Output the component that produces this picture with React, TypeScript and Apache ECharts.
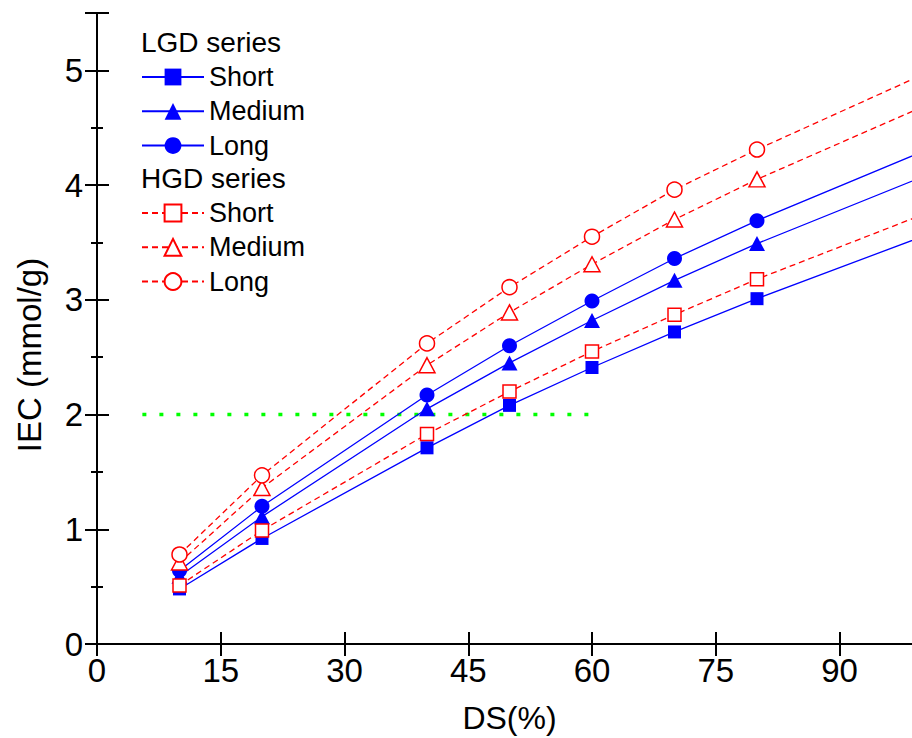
import React, { useEffect, useRef } from "react";
import * as echarts from "echarts";

const dsValues = [10, 20, 40, 50, 60, 70, 80];
const tailX = 100;

const lgdShort = [0.48, 0.92, 1.71, 2.08, 2.41, 2.72, 3.01];
const lgdMedium = [0.59, 1.11, 2.05, 2.45, 2.82, 3.17, 3.49];
const lgdLong = [0.64, 1.2, 2.17, 2.6, 2.99, 3.36, 3.69];
const hgdShort = [0.51, 0.99, 1.83, 2.2, 2.55, 2.87, 3.18];
const hgdMedium = [0.71, 1.36, 2.43, 2.89, 3.31, 3.7, 4.05];
const hgdLong = [0.78, 1.47, 2.62, 3.11, 3.55, 3.96, 4.31];

// line continuation beyond the last measured point (no marker)
const tailValues = {
  lgdShort: 3.55,
  lgdMedium: 4.07,
  lgdLong: 4.29,
  hgdShort: 3.74,
  hgdMedium: 4.68,
  hgdLong: 4.96,
};

const refLineX = [5.5, 60.2];
const refLineY = 2;

const xTicks = [0, 15, 30, 45, 60, 75, 90];

const FONT = "'Liberation Sans', Arial, Helvetica, sans-serif";
const BLUE = "#0000ff";
const RED = "#ff0000";

function buildData(vals: number[], tail: number) {
  const d: any[] = vals.map((v, i) => [dsValues[i], v]);
  d.push({ value: [tailX, tail], symbol: "none" });
  return d;
}

export default function App() {
  const ref = useRef<HTMLDivElement>(null);

  useEffect(() => {
    if (!ref.current) return;
    const chart = echarts.init(ref.current, undefined, { renderer: "svg" });

    const lgd = (name: string, vals: number[], tail: number, symbol: string, size: any) => ({
      name,
      type: "line",
      data: buildData(vals, tail),
      symbol,
      symbolSize: size,
      showAllSymbol: true,
      lineStyle: { color: BLUE, width: 1.3, type: "solid" },
      itemStyle: { color: BLUE, borderColor: BLUE, borderWidth: 0 },
      emphasis: { disabled: true },
      z: 2,
    });
    const hgd = (name: string, vals: number[], tail: number, symbol: string, size: any) => ({
      name,
      type: "line",
      data: buildData(vals, tail),
      symbol,
      symbolSize: size,
      showAllSymbol: true,
      lineStyle: { color: RED, width: 1.3, type: [6, 4] },
      itemStyle: { color: "#ffffff", borderColor: RED, borderWidth: 1.5 },
      emphasis: { disabled: true },
      z: 3,
    });

    const legendCommon = {
      orient: "vertical",
      padding: 0,
      itemWidth: 62,
      itemHeight: 21,
      itemGap: 4.3,
      itemTextGap: 9,
      textStyle: { fontFamily: FONT, fontSize: 27, color: "#000", lineHeight: 30 },
      formatter: (n: string) => n.replace(/^(LGD|HGD) /, ""),
      selectedMode: false,
    };

    chart.setOption({
      animation: false,
      backgroundColor: "#ffffff",
      textStyle: { fontFamily: FONT },
      grid: {
        left: 97,
        top: 13,
        width: 825,
        height: 631,
        containLabel: false,
        outerBoundsMode: "none",
      },
      legend: [
        {
          ...legendCommon,
          left: 141,
          top: 62,
          data: ["LGD Short", "LGD Medium", "LGD Long"],
        },
        {
          ...legendCommon,
          left: 141,
          top: 198,
          data: ["HGD Short", "HGD Medium", "HGD Long"],
        },
      ],
      xAxis: [
        {
          type: "value",
          min: 0,
          max: 100,
          interval: 15,
          position: "bottom",
          name: "DS(%)",
          nameLocation: "middle",
          nameGap: 58,
          nameTextStyle: { fontFamily: FONT, fontSize: 32, color: "#000" },
          axisLine: { show: true, lineStyle: { color: "#000", width: 2 } },
          axisTick: { show: true, inside: true, length: 12, lineStyle: { color: "#000", width: 2 } },
          axisLabel: {
            show: true,
            margin: 10,
            fontFamily: FONT,
            fontSize: 33,
            color: "#000",
            showMaxLabel: false,
            formatter: (v: number) => (xTicks.includes(v) ? String(v) : ""),
          },
          splitLine: { show: false },
        },
        {
          type: "value",
          min: 0,
          max: 100,
          interval: 15,
          position: "top",
          axisLine: { show: true, lineStyle: { color: "#000", width: 2 } },
          axisTick: { show: true, inside: true, length: 12, lineStyle: { color: "#000", width: 2 } },
          axisLabel: { show: false },
          splitLine: { show: false },
        },
      ],
      yAxis: [
        {
          type: "value",
          min: 0,
          max: 5.5,
          interval: 1,
          position: "left",
          axisLine: { show: true, lineStyle: { color: "#000", width: 2 } },
          axisTick: { show: true, inside: true, length: 12, lineStyle: { color: "#000", width: 2 } },
          minorTick: { show: true, splitNumber: 2, length: 6, lineStyle: { color: "#000", width: 2 } },
          axisLabel: {
            show: true,
            margin: 14,
            fontFamily: FONT,
            fontSize: 33,
            color: "#000",
            showMaxLabel: false,
          },
          splitLine: { show: false },
          minorSplitLine: { show: false },
        },
        {
          type: "value",
          min: 0,
          max: 5.5,
          interval: 1,
          position: "right",
          axisLine: { show: true, lineStyle: { color: "#000", width: 2 } },
          axisTick: { show: true, inside: true, length: 12, lineStyle: { color: "#000", width: 2 } },
          minorTick: { show: true, splitNumber: 2, length: 6, lineStyle: { color: "#000", width: 2 } },
          axisLabel: { show: false },
          splitLine: { show: false },
        },
      ],
      graphic: [
        {
          type: "text",
          left: 141,
          top: 28,
          style: { text: "LGD series", fontFamily: FONT, fontSize: 28, fill: "#000" },
        },
        {
          type: "text",
          left: 141,
          top: 164,
          style: { text: "HGD series", fontFamily: FONT, fontSize: 28, fill: "#000" },
        },
        {
          type: "text",
          x: 29,
          y: 355,
          rotation: Math.PI / 2,
          style: {
            text: "IEC (mmol/g)",
            fontFamily: FONT,
            fontSize: 33,
            fill: "#000",
            align: "center",
            verticalAlign: "middle",
          },
        },
      ],
      series: [
        {
          name: "ref",
          type: "line",
          data: refLineX.map((x) => [x, refLineY]),
          symbol: "none",
          lineStyle: { color: "#00ff00", width: 3.5, type: [4, 13], cap: "butt" },
          emphasis: { disabled: true },
          z: 1,
        },
        lgd("LGD Short", lgdShort, tailValues.lgdShort, "rect", 13),
        lgd("LGD Medium", lgdMedium, tailValues.lgdMedium, "triangle", [16, 15]),
        lgd("LGD Long", lgdLong, tailValues.lgdLong, "circle", 15),
        hgd("HGD Short", hgdShort, tailValues.hgdShort, "rect", 13),
        hgd("HGD Medium", hgdMedium, tailValues.hgdMedium, "triangle", [16, 15]),
        hgd("HGD Long", hgdLong, tailValues.hgdLong, "circle", 15),
      ],
    });

    return () => chart.dispose();
  }, []);

  return (
    <div
      ref={ref}
      style={{ position: "fixed", left: 0, top: 0, width: 912, height: 738, background: "#fff" }}
    />
  );
}
